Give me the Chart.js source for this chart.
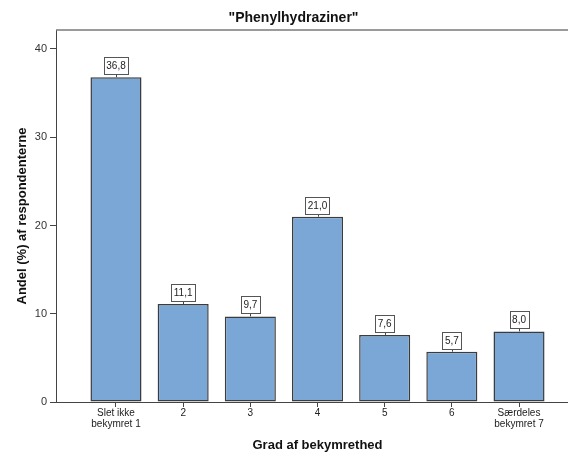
<!DOCTYPE html>
<html>
<head>
<meta charset="utf-8">
<script src="https://cdn.jsdelivr.net/npm/chart.js@4"></script>
<style>
  html, body { margin: 0; padding: 0; overflow: hidden; background: #fff; }
  #wrap { width: 579px; height: 455px; position: relative; }
</style>
</head>
<body>
<div id="wrap"><canvas id="c"></canvas></div>
<script>
const categories = [["Slet ikke", "bekymret 1"], "2", "3", "4", "5", "6", ["Særdeles", "bekymret 7"]];
const values = [36.8, 11.1, 9.7, 21.0, 7.6, 5.7, 8.0];
const yTicks = [0, 10, 20, 30, 40];
const chartTitle = '"Phenylhydraziner"';
const xTitle = "Grad af bekymrethed";
const yTitle = "Andel (%) af respondenterne";

const FONT = "'Liberation Sans', Arial, sans-serif";

const points = values.map((v, i) => ({ x: i + 1, y: v }));

const frameLine = {
  id: 'frameLine',
  afterDraw(chart) {
    const { ctx, chartArea } = chart;
    ctx.save();
    ctx.strokeStyle = '#7a7a7a';
    ctx.lineWidth = 1.5;
    ctx.beginPath();
    ctx.moveTo(chartArea.left, chartArea.top);
    ctx.lineTo(chartArea.right, chartArea.top);
    ctx.stroke();
    ctx.restore();
  }
};

const valueBoxes = {
  id: 'valueBoxes',
  afterDatasetsDraw(chart) {
    const { ctx } = chart;
    const meta = chart.getDatasetMeta(0);
    ctx.save();
    ctx.font = '10px ' + FONT;
    ctx.textAlign = 'center';
    ctx.textBaseline = 'middle';
    meta.data.forEach((bar, i) => {
      const txt = values[i].toFixed(1).replace('.', ',');
      const w = ctx.measureText(txt).width + 5;
      const h = 17;
      const gap = 3;
      const x = bar.x, yTop = bar.y;
      ctx.strokeStyle = '#444';
      ctx.lineWidth = 1;
      ctx.beginPath();
      ctx.moveTo(Math.round(x) + 0.5, yTop);
      ctx.lineTo(Math.round(x) + 0.5, yTop - gap);
      ctx.stroke();
      const bx = Math.round(x - w / 2) + 0.5;
      const by = Math.round(yTop - gap - h) + 0.5;
      ctx.fillStyle = '#fff';
      ctx.fillRect(bx, by, Math.round(w), h);
      ctx.strokeStyle = '#555';
      ctx.strokeRect(bx, by, Math.round(w), h);
      ctx.fillStyle = '#222';
      ctx.fillText(txt, x, by + h / 2 + 0.5);
    });
    ctx.restore();
  }
};

new Chart(document.getElementById('c'), {
  type: 'bar',
  data: {
    datasets: [{
      data: points,
      backgroundColor: '#7aa7d6',
      borderColor: '#3c3c3c',
      borderWidth: 1.5,
      borderSkipped: false,
      categoryPercentage: 1,
      barPercentage: 0.76
    }]
  },
  options: {
    responsive: true,
    maintainAspectRatio: false,
    animation: false,
    layout: { padding: { left: 8, right: 0, top: 0, bottom: 0 } },
    plugins: {
      legend: { display: false },
      tooltip: { enabled: false },
      title: {
        display: true,
        text: chartTitle,
        color: '#111',
        font: { family: FONT, size: 14, weight: 'bold' },
        padding: { top: 10, bottom: 3.2 }
      }
    },
    scales: {
      x: {
        type: 'linear',
        offset: false,
        min: 0.107,
        max: 7.893,
        afterFit(s) { s.height = 53; },
        afterBuildTicks(s) { s.ticks = categories.map((c, i) => ({ value: i + 1 })); },
        border: { display: true, color: '#444', width: 1 },
        grid: { offset: false, drawOnChartArea: false, drawTicks: true, tickLength: 5, color: '#444' },
        ticks: {
          autoSkip: false,
          maxRotation: 0,
          padding: 1,
          color: '#222',
          font: { family: FONT, size: 10, lineHeight: 1.1 },
          callback: (v) => categories[Math.round(v) - 1]
        },
        title: {
          display: true,
          text: xTitle,
          color: '#111',
          font: { family: FONT, size: 13, weight: 'bold' },
          padding: { top: 0, bottom: 2.2 }
        }
      },
      y: {
        min: 0,
        max: 42.15,
        afterFit(s) { s.width = 48; },
        afterBuildTicks(s) { s.ticks = yTicks.map(v => ({ value: v })); },
        border: { display: true, color: '#444', width: 1 },
        grid: { drawOnChartArea: false, drawTicks: true, tickLength: 6, color: '#444' },
        ticks: {
          padding: 3,
          color: '#333',
          font: { family: FONT, size: 11 }
        },
        title: {
          display: true,
          text: yTitle,
          color: '#111',
          font: { family: FONT, size: 13, weight: 'bold' },
          padding: { top: 7, bottom: 0 }
        }
      }
    }
  },
  plugins: [frameLine, valueBoxes]
});
</script>
</body>
</html>
